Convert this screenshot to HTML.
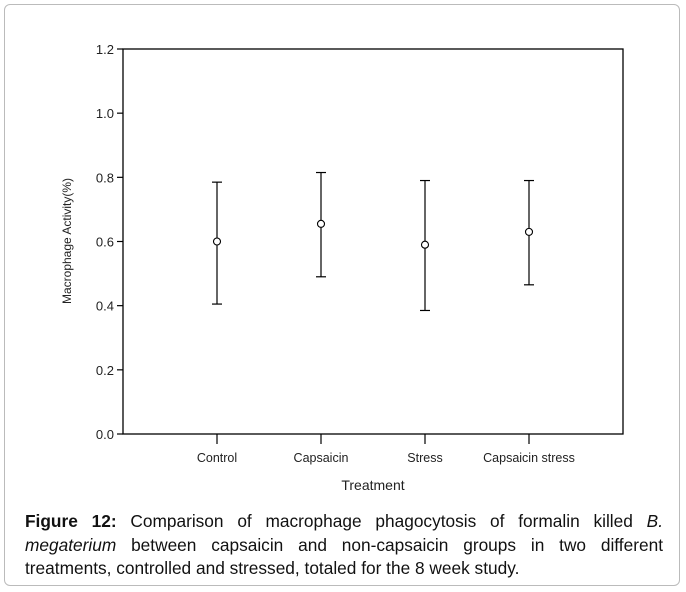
<!DOCTYPE html>
<html><head><meta charset="utf-8"><style>
body{margin:0;width:686px;height:592px;background:#fff;font-family:"Liberation Sans",Arial,sans-serif;overflow:hidden;position:relative}
#frame{position:absolute;left:4px;top:4px;width:676px;height:582px;border:1px solid #bbb;border-radius:6px;box-sizing:border-box}
#cap{position:absolute;left:25px;top:510px;width:638px;font-size:17.3px;line-height:23.5px;text-align:justify;color:#111}
</style></head><body>
<div id="frame"></div>
<svg id="chart" width="686" height="500" style="position:absolute;left:0;top:0"></svg>
<div id="cap"><b>Figure 12:</b> Comparison of macrophage phagocytosis of formalin killed <i>B. megaterium</i> between capsaicin and non-capsaicin groups in two different treatments, controlled and stressed, totaled for the 8 week study.</div>
<script>
const categories=["Control","Capsaicin","Stress","Capsaicin stress"];
const means=[0.60,0.655,0.59,0.63];
const uppers=[0.785,0.815,0.79,0.79];
const lowers=[0.405,0.49,0.385,0.465];
const yTicks=["0.0","0.2","0.4","0.6","0.8","1.0","1.2"];
const NS="http://www.w3.org/2000/svg";
const svg=document.getElementById('chart');
const L=123,R=623,T=49,B=434,yMax=1.2;
const y=v=>B-(v/yMax)*(B-T);
const catX=[217,321,426,529];
const x=i=>catX[0]+i*((catX[3]-catX[0])/3);
function mk(t,a){const e=document.createElementNS(NS,t);for(const k in a)e.setAttribute(k,a[k]);svg.appendChild(e);return e;}
const box=mk('rect',{x:L,y:T,width:R-L,height:B-T,fill:'none',stroke:'#000','stroke-width':1.3});


yTicks.forEach(t=>{const yy=y(parseFloat(t));
const l=mk('line',{x1:L-6,x2:L,y1:yy,y2:yy,stroke:'#000','stroke-width':1.2});


const tx=mk('text',{x:L-9,y:yy+5,'text-anchor':'end','font-size':13,fill:'#222'});tx.textContent=t;

});
categories.forEach((c,i)=>{const xx=x(i);
const l=mk('line',{x1:xx,x2:xx,y1:B,y2:B+10,stroke:'#000','stroke-width':1.2});


const tx=mk('text',{x:xx,y:462,'text-anchor':'middle','font-size':12.5,fill:'#222'});tx.textContent=c;


const g=mk('g',{stroke:'#000','stroke-width':1.2,fill:'none'});


[[xx,y(uppers[i]),xx,y(means[i])-3.5],[xx,y(means[i])+3.5,xx,y(lowers[i])],[xx-5,y(uppers[i]),xx+5,y(uppers[i])],[xx-5,y(lowers[i]),xx+5,y(lowers[i])]].forEach(s=>{const ln=document.createElementNS(NS,'line');ln.setAttribute('x1',s[0]);ln.setAttribute('y1',s[1]);ln.setAttribute('x2',s[2]);ln.setAttribute('y2',s[3]);g.appendChild(ln);});
const p=mk('circle',{cx:xx,cy:y(means[i]),r:3.5,fill:'#fff',stroke:'#000','stroke-width':1.1});

});
const yt=mk('text',{x:0,y:0,transform:'translate(71,241) rotate(-90)','text-anchor':'middle','font-size':12,fill:'#222'});yt.textContent='Macrophage Activity(%)';


const xt=mk('text',{x:373,y:490,'text-anchor':'middle','font-size':14,fill:'#222'});xt.textContent='Treatment';


</script>
</body></html>
